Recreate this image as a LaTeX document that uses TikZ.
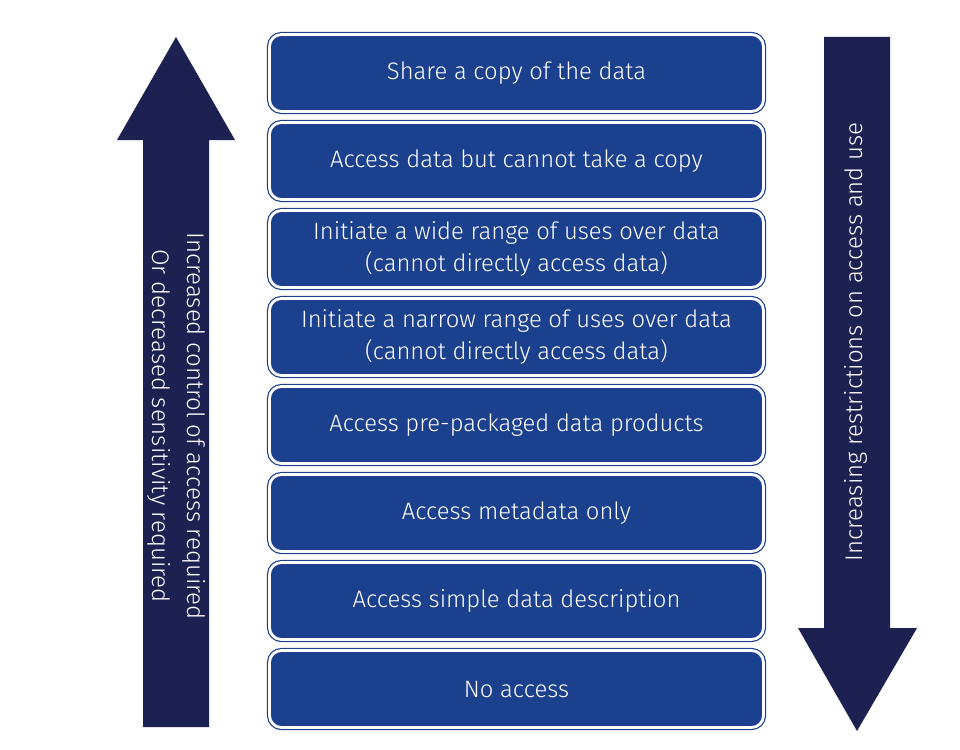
\documentclass[tikz,border=0pt]{standalone}
\usepackage{fontspec}
\setmainfont{Fira Sans}[UprightFont=* Light]
\definecolor{boxblue}{RGB}{27,64,141}
\definecolor{navy}{RGB}{28,33,82}
\begin{document}
\begin{tikzpicture}[x=1pt,y=-1pt,
  box/.style={draw=boxblue, double=white, line width=1.2pt, double distance=2.8pt,
    fill=boxblue, rounded corners=12pt, minimum width=494pt, minimum height=77pt,
    text=white, align=center, font=\fontsize{23.8}{32}\selectfont, inner sep=0pt},
  arr/.style={fill=navy, draw=none},
  lbl/.style={text=white, align=center, font=\fontsize{24}{35}\selectfont, inner sep=0pt}]
\useasboundingbox (0,0) rectangle (960,749);
\fill[white] (0,0) rectangle (960,749);
% arrows
\path[arr] (176,37) -- (235,140) -- (209,140) -- (209,727) -- (143,727) -- (143,140) -- (117,140) -- cycle;
\path[arr] (824,37) -- (890,37) -- (890,628) -- (917,628) -- (857,731) -- (798,628) -- (824,628) -- cycle;
\node[lbl, rotate=-90] (lt) at (177,426) {Increased control of access required\\Or decreased sensitivity required};
\node[lbl, rotate=90] (rt) at (856,342) {Increasing restrictions on access and use};
% boxes
\node[box] (b1) at (516.5,73) {Share a copy of the data};
\node[box] (b2) at (516.5,161) {Access data but cannot take a copy};
\node[box] (b3) at (516.5,249) {Initiate a wide range of uses over data\\(cannot directly access data)};
\node[box] (b4) at (516.5,337) {Initiate a narrow range of uses over data\\(cannot directly access data)};
\node[box] (b5) at (516.5,425) {Access pre-packaged data products};
\node[box] (b6) at (516.5,513) {Access metadata only};
\node[box] (b7) at (516.5,601) {Access simple data description};
\node[box] (b8) at (516.5,689) {No access};
\end{tikzpicture}
\end{document}
